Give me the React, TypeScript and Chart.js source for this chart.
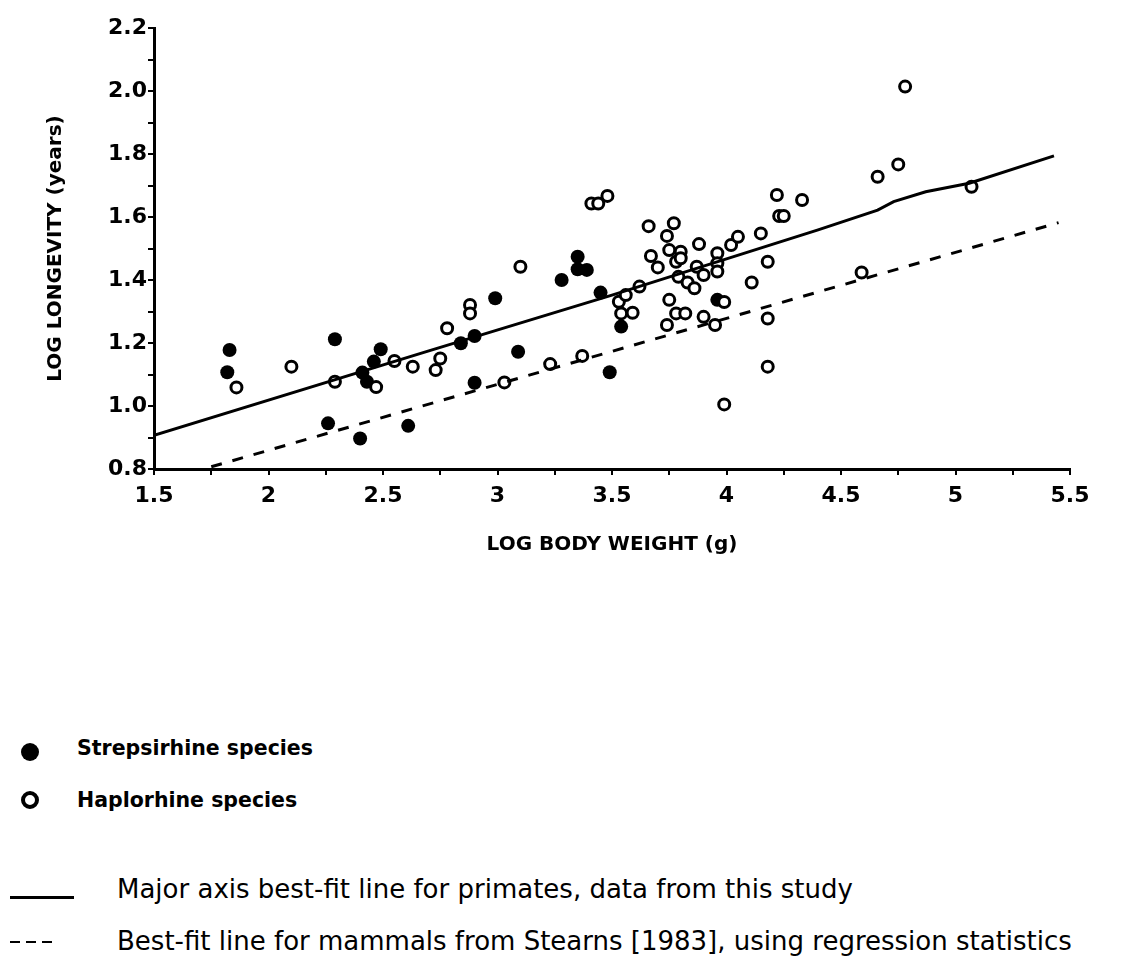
import React, { useEffect, useRef } from "react";
import { Chart, registerables } from "chart.js";

Chart.register(...registerables);

// Strepsirhine species (filled circles)
const strepX = [1.83, 1.82, 2.29, 2.26, 2.40, 2.61, 2.41, 2.46, 2.49, 2.43, 3.35, 3.35, 3.39, 3.28, 2.99, 3.45, 2.84, 2.90, 3.09, 2.90, 3.49, 3.54, 3.96];
const strepY = [1.178, 1.107, 1.212, 0.945, 0.897, 0.937, 1.106, 1.141, 1.180, 1.077, 1.474, 1.434, 1.432, 1.400, 1.342, 1.360, 1.199, 1.222, 1.172, 1.074, 1.107, 1.252, 1.337];

// Haplorhine species (open circles)
const haploX = [1.86, 2.10, 2.29, 2.47, 2.55, 2.63, 2.73, 2.75, 3.10, 2.88, 2.88, 2.78, 3.03, 3.23, 3.37, 3.53, 3.54, 3.59, 3.56, 3.62, 3.41, 3.44, 3.48, 3.66, 3.67, 3.70, 3.77, 3.74, 3.75, 3.78, 3.80, 3.80, 3.79, 3.83, 3.86, 3.75, 3.78, 3.82, 3.74, 3.88, 3.87, 3.90, 3.90, 3.95, 3.96, 3.96, 3.96, 3.99, 4.02, 4.05, 4.15, 4.18, 4.11, 4.18, 4.18, 4.22, 4.23, 4.25, 4.33, 4.66, 4.59, 4.78, 4.75, 5.07, 3.99];
const haploY = [1.059, 1.125, 1.077, 1.060, 1.143, 1.125, 1.114, 1.151, 1.442, 1.321, 1.294, 1.247, 1.075, 1.133, 1.159, 1.331, 1.294, 1.296, 1.352, 1.379, 1.643, 1.643, 1.667, 1.571, 1.476, 1.440, 1.580, 1.540, 1.495, 1.458, 1.490, 1.469, 1.410, 1.392, 1.374, 1.337, 1.294, 1.294, 1.257, 1.514, 1.442, 1.416, 1.283, 1.257, 1.485, 1.453, 1.427, 1.330, 1.511, 1.537, 1.548, 1.458, 1.392, 1.278, 1.125, 1.670, 1.603, 1.603, 1.654, 1.728, 1.424, 2.014, 1.767, 1.696, 1.005];

// Major axis best-fit line (primates, this study)
const majorX = [1.5, 2.7, 3.5, 4.4, 4.66, 4.73, 4.87, 5.06, 5.43];
const majorY = [0.907, 1.175, 1.352, 1.559, 1.622, 1.649, 1.68, 1.707, 1.794];

// Best-fit line for mammals (Stearns 1983)
const stearnsX = [1.75, 5.45];
const stearnsY = [0.807, 1.582];

const xMin = 1.5, xMax = 5.5, xStep = 0.25;
const yMin = 0.8, yMax = 2.2, yStep = 0.1;

const xTitle = "LOG BODY WEIGHT (g)";
const yTitle = "LOG LONGEVITY (years)";
const legendStrep = "Strepsirhine species";
const legendHaplo = "Haplorhine species";
const legendMajor = "Major axis best-fit line for primates, data from this study";
const legendStearns = "Best-fit line for mammals from Stearns [1983], using regression statistics";

const zip = (xs: number[], ys: number[]) => xs.map((x, i) => ({ x, y: ys[i] }));

export default function App() {
  const ref = useRef<HTMLCanvasElement | null>(null);
  useEffect(() => {
    if (!ref.current) return;
    const tickFont = { family: "DejaVu Sans", weight: "bold" as const, size: 22 };
    const titleFont = { family: "DejaVu Sans", weight: "bold" as const, size: 20 };
    const chart = new Chart(ref.current, {
      type: "scatter",
      data: {
        datasets: [
          {
            type: "line",
            data: zip(majorX, majorY),
            borderColor: "#000",
            borderWidth: 3,
            pointRadius: 0,
            fill: false,
            tension: 0,
          } as any,
          {
            type: "line",
            data: zip(stearnsX, stearnsY),
            borderColor: "#000",
            borderWidth: 3,
            borderDash: [11, 11],
            pointRadius: 0,
            fill: false,
          } as any,
          {
            data: zip(haploX, haploY),
            pointRadius: 5.5,
            pointBorderWidth: 3,
            pointBackgroundColor: "#fff",
            pointBorderColor: "#000",
          },
          {
            data: zip(strepX, strepY),
            pointRadius: 7,
            pointBorderWidth: 0,
            pointBackgroundColor: "#000",
            pointBorderColor: "#000",
          },
        ],
      },
      options: {
        animation: false,
        responsive: false,
        devicePixelRatio: 1,
        layout: { padding: { left: 34, right: 52, top: 28, bottom: 0 } },
        plugins: { legend: { display: false }, tooltip: { enabled: false } },
        scales: {
          x: {
            type: "linear",
            min: xMin,
            max: xMax,
            afterFit: (s: any) => { s.height = 111; },
            ticks: {
              stepSize: xStep,
              color: "#000",
              font: tickFont,
              padding: 8,
              maxRotation: 0,
              autoSkip: false,
              callback: (v: any) => {
                const n = Number(v);
                if (Math.round(n * 4) % 2 !== 0) return "";
                return Number.isInteger(Math.round(n * 100) / 100) ? String(Math.round(n)) : n.toFixed(1);
              },
            },
            grid: { drawOnChartArea: false, drawTicks: true, tickLength: 6, color: "#000", lineWidth: 2 },
            border: { color: "#000", width: 3 },
            title: { display: true, text: xTitle, color: "#000", font: titleFont, padding: { top: 0, bottom: 23 } },
          },
          y: {
            type: "linear",
            min: yMin,
            max: yMax,
            afterFit: (s: any) => { s.width = 120; },
            ticks: {
              stepSize: yStep,
              color: "#000",
              font: tickFont,
              padding: 1,
              autoSkip: false,
              callback: (v: any) => {
                const n = Number(v);
                if (Math.round(n * 10) % 2 !== 0) return "";
                return n.toFixed(1);
              },
            },
            grid: { drawOnChartArea: false, drawTicks: true, tickLength: 6, color: "#000", lineWidth: 2 },
            border: { color: "#000", width: 3 },
            title: { display: true, text: yTitle, color: "#000", font: titleFont, padding: { top: 10, bottom: 0 } },
          },
        },
      },
    });
    return () => chart.destroy();
  }, []);

  const boldLabel: React.CSSProperties = {
    position: "absolute",
    left: 77,
    fontFamily: "DejaVu Sans",
    fontWeight: "bold",
    fontSize: 20.5,
    lineHeight: "24px",
    whiteSpace: "nowrap",
    color: "#000",
  };
  const normLabel: React.CSSProperties = {
    position: "absolute",
    left: 117,
    fontFamily: "DejaVu Sans",
    fontSize: 26,
    lineHeight: "30px",
    whiteSpace: "nowrap",
    color: "#000",
  };

  return (
    <div style={{ position: "absolute", left: 0, top: 0, width: 1122, height: 961, background: "#fff", overflow: "hidden" }}>
      <canvas ref={ref} width={1122} height={580} style={{ position: "absolute", left: 0, top: 0, width: 1122, height: 580 }} />
      <div style={{ position: "absolute", left: 21, top: 743, width: 18, height: 18, borderRadius: "50%", background: "#000" }} />
      <div style={{ ...boldLabel, top: 736 }}>{legendStrep}</div>
      <div style={{ position: "absolute", left: 21, top: 791, width: 18, height: 18, borderRadius: "50%", boxSizing: "border-box", border: "4px solid #000" }} />
      <div style={{ ...boldLabel, top: 788 }}>{legendHaplo}</div>
      <div style={{ position: "absolute", left: 10, top: 896, width: 64, height: 3, background: "#000" }} />
      <div style={{ ...normLabel, top: 874 }}>{legendMajor}</div>
      <div style={{ position: "absolute", left: 10, top: 941, width: 10, height: 2, background: "#000" }} />
      <div style={{ position: "absolute", left: 26, top: 941, width: 10, height: 2, background: "#000" }} />
      <div style={{ position: "absolute", left: 42, top: 941, width: 10, height: 2, background: "#000" }} />
      <div style={{ ...normLabel, top: 926 }}>{legendStearns}</div>
    </div>
  );
}
